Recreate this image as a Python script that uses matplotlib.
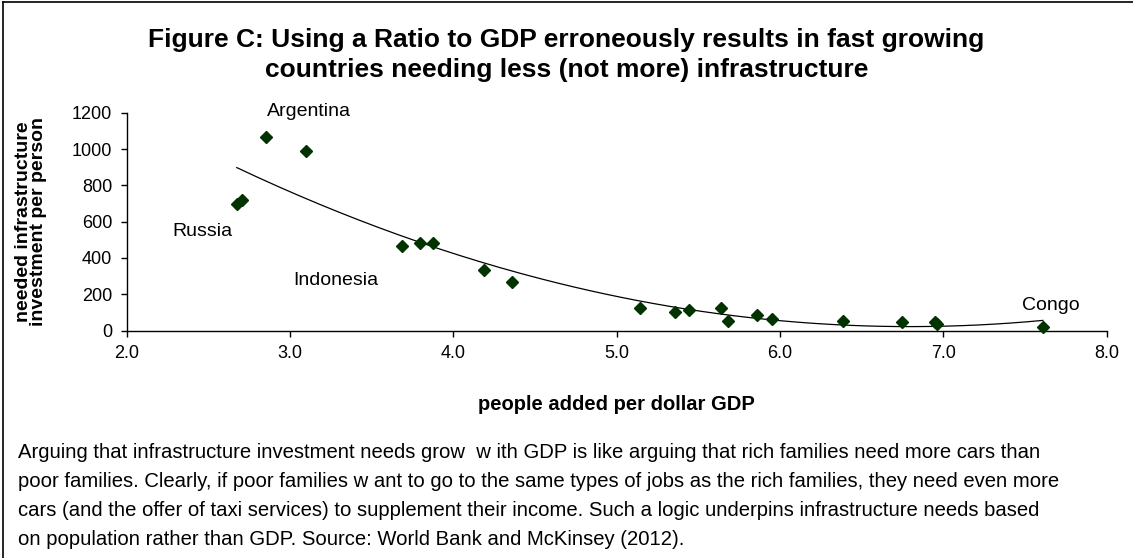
import numpy as np
import matplotlib
matplotlib.use("Agg")
import matplotlib.pyplot as plt
from matplotlib.lines import Line2D

plt.rcParams['font.family'] = ['Liberation Sans', 'DejaVu Sans']

# data
people_per_gdp = [2.674, 2.704, 2.853, 3.100, 3.684, 3.796, 3.878, 4.188, 4.358,
                  5.141, 5.356, 5.443, 5.637, 5.680, 5.860, 5.950, 6.388,
                  6.746, 6.950, 6.960, 7.609]
invest_per_person = [696, 718, 1067, 988, 467, 483, 483, 333, 265,
                     122, 104, 113, 124, 52, 84, 62, 52,
                     45, 45, 35, 21]

label_names = ["Argentina", "Russia", "Indonesia", "Congo"]
label_x = [2.857, 2.277, 3.018, 7.481]
label_y = [1204, 544, 278, 135]

x_ticks = [2.0, 3.0, 4.0, 5.0, 6.0, 7.0, 8.0]
y_ticks = [0, 200, 400, 600, 800, 1000, 1200]

title = ("Figure C: Using a Ratio to GDP erroneously results in fast growing\n"
         "countries needing less (not more) infrastructure")
caption_lines = [
    "Arguing that infrastructure investment needs grow  w ith GDP is like arguing that rich families need more cars than",
    "poor families. Clearly, if poor families w ant to go to the same types of jobs as the rich families, they need even more",
    "cars (and the offer of taxi services) to supplement their income. Such a logic underpins infrastructure needs based",
    "on population rather than GDP. Source: World Bank and McKinsey (2012).",
]

W, H = 1133, 558
fig = plt.figure(figsize=(W / 100, H / 100), dpi=100)
fig.patch.set_facecolor("white")

ax = fig.add_axes([126.7 / W, 1 - 330.5 / H, (1106.7 - 126.7) / W, (330.5 - 112.7) / H])
ax.set_xlim(2.0, 8.0)
ax.set_ylim(0, 1200)
ax.spines['top'].set_visible(False)
ax.spines['right'].set_visible(False)
for s in ('left', 'bottom'):
    ax.spines[s].set_color('black')
    ax.spines[s].set_linewidth(1.0)
ax.set_xticks(x_ticks)
ax.set_xticklabels([f"{v:.1f}" for v in x_ticks])
ax.set_yticks(y_ticks)
ax.tick_params(axis='both', direction='out', length=4.5, width=1.0, labelsize=13,
               colors='black')
ax.tick_params(axis='x', pad=6)
ax.tick_params(axis='y', pad=6)

# quadratic trend line fitted to the data
coef = np.polyfit(people_per_gdp, invest_per_person, 2)
xs = np.linspace(min(people_per_gdp), max(people_per_gdp), 200)
ax.plot(xs, np.polyval(coef, xs), color='black', linewidth=0.9, zorder=2)

ax.plot(people_per_gdp, invest_per_person, linestyle='none', marker='D',
        markersize=6.5, color='#003300', markeredgecolor='#003300', zorder=3,
        clip_on=False)

for name, lx, ly in zip(label_names, label_x, label_y):
    ax.text(lx, ly, name, fontsize=14, ha='left', va='center', color='black')

fig.text(31 / W, 1 - 222 / H, "needed infrastructure\ninvestment per person",
         rotation=90, ha='center', va='center', fontsize=14, fontweight='bold',
         linespacing=0.92)
fig.text(0.5 * (126.7 + 1106.7) / W, 1 - 404 / H, "people added per dollar GDP",
         ha='center', va='center', fontsize=14.5, fontweight='bold')

fig.text(0.5, 1 - 55 / H, title, ha='center', va='center', fontsize=19,
         fontweight='bold', linespacing=1.3)

fig.text(18 / W, 1 - 496 / H, "\n".join(caption_lines), ha='left', va='center',
         fontsize=14.6, linespacing=1.68)

# chart border
fig.add_artist(Line2D([3 / W, 3 / W], [0, 1 - 2 / H], transform=fig.transFigure,
                      color='black', linewidth=1.2))
fig.add_artist(Line2D([3 / W, 1], [1 - 2 / H, 1 - 2 / H], transform=fig.transFigure,
                      color='black', linewidth=1.2))

fig.savefig("out.png", dpi=100)
